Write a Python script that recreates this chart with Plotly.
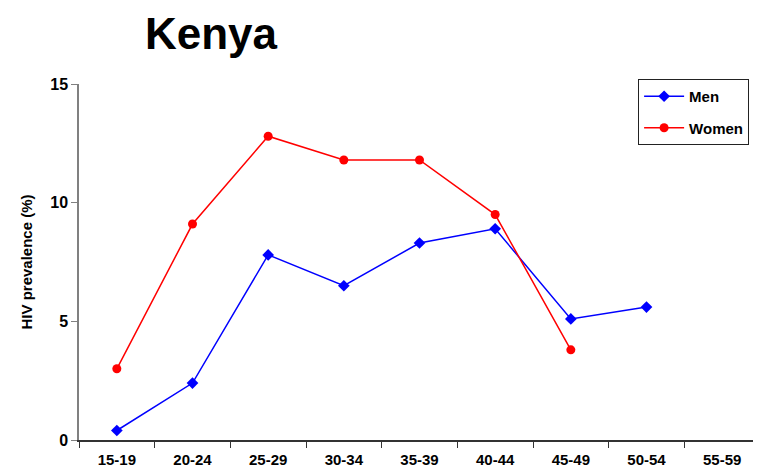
import plotly.graph_objects as go

# HIV prevalence by age group, Kenya
age_groups = ["15-19", "20-24", "25-29", "30-34", "35-39", "40-44", "45-49", "50-54", "55-59"]
men = [0.4, 2.4, 7.8, 6.5, 8.3, 8.9, 5.1, 5.6, None]
women = [3.0, 9.1, 12.8, 11.8, 11.8, 9.5, 3.8, None, None]
y_ticks = [0, 5, 10, 15]

FONT = "Liberation Sans, Arial, sans-serif"

# page body has an 8px margin, so the figure is sized to fit inside the window
W, H = 753, 459

fig = go.Figure()
fig.add_trace(
    go.Scatter(
        x=age_groups,
        y=men,
        name="<b>Men</b>",
        legendgroup="men",
        mode="lines+markers",
        line=dict(color="#0000FF", width=1.5),
        marker=dict(symbol="diamond", size=9, color="#0000FF"),
    )
)
fig.add_trace(
    go.Scatter(
        x=age_groups,
        y=women,
        name="<b>Women</b>",
        legendgroup="women",
        mode="lines+markers",
        line=dict(color="#FF0000", width=1.5),
        marker=dict(symbol="circle", size=9, color="#FF0000"),
    )
)

fig.update_layout(
    width=W,
    height=H,
    margin=dict(l=71, r=1, t=76, b=27, autoexpand=False),
    paper_bgcolor="white",
    plot_bgcolor="white",
    font=dict(family=FONT, color="black", size=14),
    title=dict(
        text="<b>Kenya</b>",
        font=dict(family=FONT, size=44, color="black"),
        x=203 / W,
        xanchor="center",
        xref="container",
        y=1 - 26 / H,
        yref="container",
        yanchor="middle",
    ),
    legend=dict(
        x=0.821,
        y=1.014,
        xanchor="left",
        yanchor="top",
        bordercolor="#222222",
        borderwidth=1,
        bgcolor="white",
        font=dict(family=FONT, size=15, color="black"),
        tracegroupgap=9,
        itemwidth=40,
    ),
    showlegend=True,
)

fig.update_xaxes(
    type="category",
    range=[-0.5, 8.5],
    showline=True,
    linecolor="#333333",
    linewidth=1.5,
    ticks="outside",
    tickson="boundaries",
    ticklen=6,
    tickcolor="#333333",
    showgrid=False,
    zeroline=False,
    tickfont=dict(family=FONT, size=15, color="black"),
    ticktext=["<b>%s</b>" % a for a in age_groups],
    tickvals=age_groups,
    ticklabelstandoff=5,
)
fig.update_yaxes(
    range=[0, 15],
    tickvals=y_ticks,
    ticktext=["<b>%d</b>" % t for t in y_ticks],
    showline=True,
    linecolor="#808080",
    linewidth=1.5,
    ticks="outside",
    ticklen=6,
    tickcolor="#808080",
    showgrid=False,
    zeroline=False,
    tickfont=dict(family=FONT, size=16, color="black"),
    title=dict(text="<b>HIV prevalence (%)</b>", font=dict(family=FONT, size=15), standoff=14),
)

fig.write_html("out.html")
